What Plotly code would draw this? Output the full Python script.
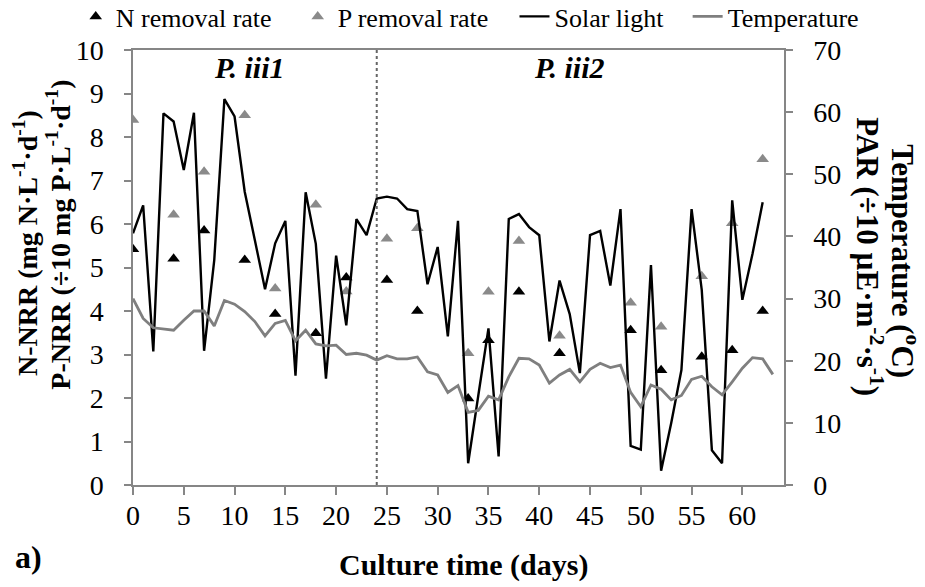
import plotly.graph_objects as go

# ---------------- data ----------------
solar_days = list(range(0, 63))
solar_par = [40.5, 45.0, 21.5, 59.8, 58.5, 50.7, 59.9, 21.6, 36.2, 62.1,
             59.3, 47.2, 39.4, 31.5, 38.9, 42.5, 17.6, 47.1, 38.8, 17.1,
             36.9, 25.7, 42.8, 40.2, 46.1, 46.4, 46.1, 44.4, 44.1, 32.3,
             38.3, 23.9, 42.5, 3.5, 14.4, 25.2, 4.6, 42.8, 43.6, 41.5,
             40.2, 23.1, 32.9, 27.5, 18.0, 40.2, 40.9, 32.1, 44.4, 6.3,
             5.7, 35.4, 2.3, 10.0, 18.5, 44.4, 31.4, 5.6, 3.5, 45.8,
             29.8, 37.2, 45.5]

temp_days = list(range(0, 64))
temperature = [30.0, 26.8, 25.3, 25.1, 24.9, 26.5, 28.0, 28.0, 25.6, 29.7,
               29.1, 27.9, 26.3, 24.0, 26.0, 26.5, 23.2, 24.9, 22.7, 22.4,
               22.5, 21.0, 21.2, 20.9, 20.1, 20.8, 20.3, 20.3, 20.6, 18.2,
               17.7, 14.9, 16.0, 11.7, 12.0, 14.3, 13.7, 17.4, 20.4, 20.3,
               19.3, 16.4, 17.7, 18.6, 16.6, 18.6, 19.6, 18.9, 19.3, 14.9,
               12.6, 16.1, 15.4, 13.7, 14.4, 17.0, 17.5, 15.8, 14.5, 16.6,
               18.8, 20.5, 20.3, 17.8]

rate_days = [0, 4, 7, 11, 14, 18, 21, 25, 28, 33, 35, 38, 42, 49, 52, 56, 59, 62]
n_removal = [5.42, 5.20, 5.85, 5.17, 3.93, 3.49, 4.77, 4.71, 4.00, 1.99,
             3.33, 4.44, 3.03, 3.56, 2.64, 2.95, 3.10, 4.00]
p_removal = [8.39, 6.21, 7.20, 8.50, 4.52, 6.44, 4.45, 5.66, 5.90, 3.03,
             4.44, 5.61, 3.43, 4.19, 3.64, 4.80, 6.02, 7.49]

divider_day = 24
x_ticks = list(range(0, 61, 5))
phase_labels = ["<i>P. iii1</i>", "<i>P. iii2</i>"]
phase_label_x = [11.4, 42.9]
phase_label_y = [9.6, 9.6]

# ---------------- style ----------------
FONT = "Times New Roman, Liberation Serif, serif"
AXIS_GRAY = "#868686"
GRAY = "#7f7f7f"
TICK_SIZE = 28

fig = go.Figure()

fig.add_trace(go.Scatter(
    x=rate_days, y=n_removal, mode="markers", name="N removal rate",
    marker=dict(symbol="triangle-up", size=11, color="black"),
    legend="legend"))
fig.add_trace(go.Scatter(
    x=rate_days, y=p_removal, mode="markers", name="P removal rate",
    marker=dict(symbol="triangle-up", size=11, color="#8a8a8a"),
    legend="legend2"))
fig.add_trace(go.Scatter(
    x=solar_days, y=solar_par, mode="lines", name="Solar light",
    line=dict(color="black", width=2.4), yaxis="y2",
    legend="legend3"))
fig.add_trace(go.Scatter(
    x=temp_days, y=temperature, mode="lines", name="Temperature",
    line=dict(color=GRAY, width=2.8), yaxis="y2",
    legend="legend4"))

leg_font = dict(family=FONT, size=26, color="black")
leg_common = dict(orientation="h", yanchor="middle", xanchor="left",
                  font=leg_font, bgcolor="rgba(0,0,0,0)", borderwidth=0)

fig.update_layout(
    width=925, height=587,
    margin=dict(l=133, r=141, t=50, b=102, autoexpand=False),
    plot_bgcolor="white", paper_bgcolor="white",
    font=dict(family=FONT, color="black"),
    showlegend=True,
    legend=dict(x=-0.088, y=1.077, **leg_common),
    legend2=dict(x=0.253, y=1.077, **leg_common),
    legend3=dict(x=0.586, y=1.077, **leg_common),
    legend4=dict(x=0.852, y=1.077, **leg_common),
    xaxis=dict(
        range=[0, 64.1], tickvals=x_ticks, showgrid=False, zeroline=False,
        showline=True, linecolor=AXIS_GRAY, linewidth=1.5, mirror=True,
        ticks="outside", ticklen=8, tickcolor=AXIS_GRAY, tickwidth=1.5,
        tickfont=dict(family=FONT, size=TICK_SIZE, color="black"),
        ticklabelstandoff=-3),
    yaxis=dict(
        range=[0, 10], dtick=1, showgrid=False, zeroline=False,
        showline=True, linecolor=AXIS_GRAY, linewidth=1.5,
        ticks="outside", ticklen=7, tickcolor=AXIS_GRAY, tickwidth=1.5,
        tickfont=dict(family=FONT, size=TICK_SIZE, color="black"),
        ticklabelstandoff=15),
    yaxis2=dict(
        range=[0, 70], dtick=10, overlaying="y", side="right",
        showgrid=False, zeroline=False,
        showline=True, linecolor=AXIS_GRAY, linewidth=1.5,
        ticks="outside", ticklen=7, tickcolor=AXIS_GRAY, tickwidth=1.5,
        tickfont=dict(family=FONT, size=TICK_SIZE, color="black"),
        ticklabelstandoff=15),
)

fig.add_shape(type="line", xref="x", yref="paper",
              x0=divider_day, x1=divider_day, y0=0, y1=1,
              line=dict(color="#666666", width=2, dash="dot"))

for txt, xv, yv in zip(phase_labels, phase_label_x, phase_label_y):
    fig.add_annotation(x=xv, y=yv, xref="x", yref="y", text="<b>" + txt + "</b>",
                       showarrow=False, font=dict(family=FONT, size=30, color="black"))

# axis titles, one annotation per line
left_title_lines = ["<b>N-NRR (mg N·L<sup>-1</sup>·d<sup>-1</sup>)</b>",
                    "<b>P-NRR (÷10 mg P·L<sup>-1</sup>·d<sup>-1</sup>)</b>"]
left_title_pos = [(-0.166, 0.556), (-0.114, 0.575)]
for txt, (xp, yp) in zip(left_title_lines, left_title_pos):
    fig.add_annotation(xref="paper", yref="paper", x=xp, y=yp, textangle=-90,
                       xanchor="center", yanchor="middle", showarrow=False,
                       text=txt, font=dict(family=FONT, size=28, color="black"))

right_title_lines = ["<b>Temperature (<sup>o</sup>C)</b>",
                     "<b>PAR (÷10 µE·m<sup>-2</sup>·s<sup>-1</sup>)</b>"]
right_title_pos = [(1.186, 0.514), (1.131, 0.525)]
for txt, (xp, yp) in zip(right_title_lines, right_title_pos):
    fig.add_annotation(xref="paper", yref="paper", x=xp, y=yp, textangle=90,
                       xanchor="center", yanchor="middle", showarrow=False,
                       text=txt, font=dict(family=FONT, size=31, color="black"))

fig.add_annotation(
    xref="paper", yref="paper", x=0.507, y=-0.183,
    xanchor="center", yanchor="middle", showarrow=False,
    text="<b>Culture time (days)</b>", font=dict(family=FONT, size=30, color="black"))
fig.add_annotation(
    xref="paper", yref="paper", x=-0.161, y=-0.165,
    xanchor="center", yanchor="middle", showarrow=False,
    text="<b>a)</b>", font=dict(family=FONT, size=32, color="black"))

fig.write_html("out.html")
